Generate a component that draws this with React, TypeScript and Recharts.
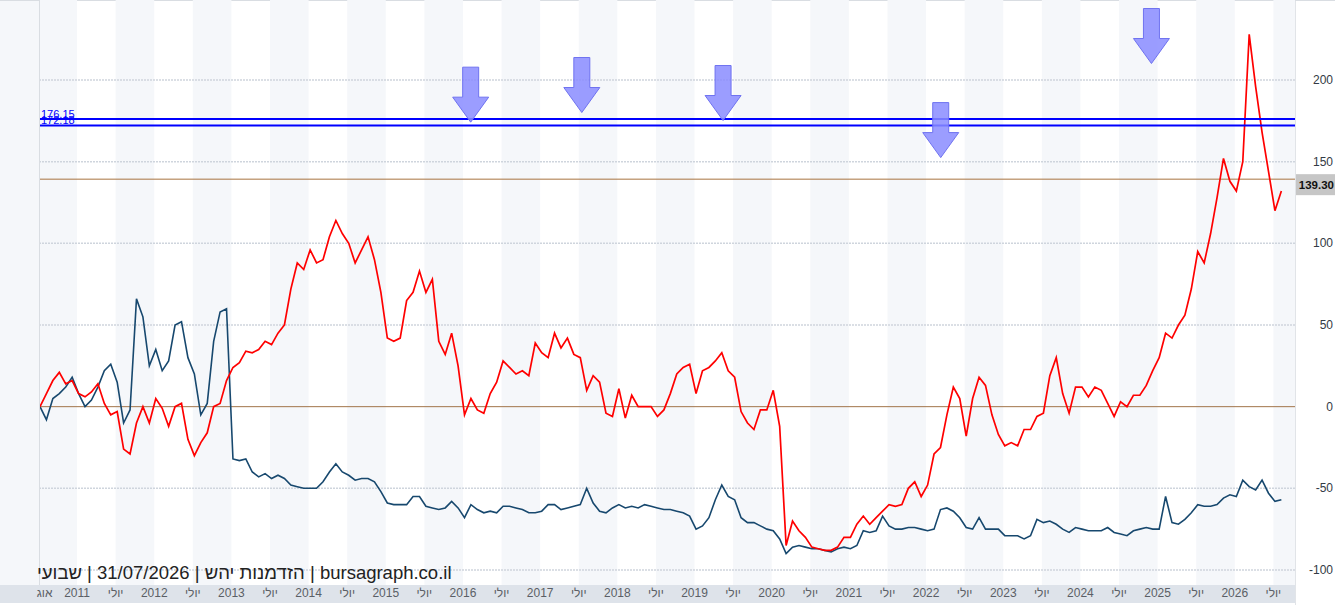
import React from "react";
import {
  LineChart,
  Line,
  XAxis,
  YAxis,
  ReferenceLine,
  ReferenceArea,
  ReferenceDot,
} from "recharts";

// weekly chart sampled monthly, starting mid-July 2010
const START = 2010.52;
const X_MIN = 2010.52;
const X_MAX = 2026.78;
const Y_MIN = -109.2;
const Y_MAX = 249;

const RED = [
  0, 8, 16, 21, 14, 16, 8, 6, 9, 14,
  2, -5, -3, -26, -29, -10, 0, -10, 5, -1,
  -12, 0, 2, -20, -30, -22, -16, 0, 2, 16,
  24, 27, 34, 33, 35, 40, 38, 45, 50, 72,
  88, 84, 96, 88, 90, 104, 114, 106, 100, 88,
  96, 104, 90, 70, 42, 40, 42, 65, 70, 83,
  70, 78, 40, 32, 45, 25, -5, 5, -2, -4,
  8, 15, 28, 24, 20, 22, 19, 39, 33, 30,
  45, 36, 42, 32, 30, 10, 19, 15, -4, -6,
  11, -7, 7, 0, 0, 0, -6, -2, 8, 20,
  24, 26, 8, 22, 24, 28, 33, 22, 18, -3,
  -10, -14, -2, -2, 10, -12, -85, -70, -76, -80,
  -86, -87, -88, -88, -86, -80, -80, -72, -67, -72,
  -68, -64, -60, -61, -60, -50, -46, -55, -48, -29,
  -25, -5, 12, 5, -18, 5, 18, 13, -5, -17,
  -24, -22, -24, -14, -14, -6, -4, 19, 30, 8,
  -4, 12, 12, 6, 12, 10, 2, -6, 3, 0,
  7, 7, 13, 22, 30, 45, 42, 50, 56, 72,
  95, 88, 106, 128, 152, 138, 132, 150, 228, 196,
  168, 144, 120, 132,
];

const BLUE = [
  0, -8, 5, 8, 12, 18, 8, 0, 4, 12,
  22, 26, 15, -10, -2, 66, 55, 25, 35, 22,
  28, 50, 52, 30, 20, -5, 2, 40, 58, 60,
  -32, -33, -32, -40, -43, -41, -44, -42, -44, -48,
  -49, -50, -50, -50, -46, -40, -35, -40, -42, -45,
  -44, -44, -46, -52, -59, -60, -60, -60, -55, -55,
  -61, -62, -63, -62, -58, -62, -68, -60, -63, -65,
  -64, -65, -61, -61, -62, -63, -65, -65, -64, -60,
  -60, -63, -62, -61, -60, -50, -59, -64, -65, -62,
  -60, -62, -61, -62, -60, -61, -62, -63, -63, -64,
  -65, -67, -75, -73, -68, -57, -48, -55, -57, -68,
  -71, -71, -73, -75, -76, -81, -90, -86, -85, -86,
  -87, -87, -88, -89, -87, -86, -87, -85, -76, -77,
  -76, -67, -73, -75, -75, -74, -74, -75, -76, -75,
  -63, -62, -64, -68, -74, -75, -68, -75, -75, -75,
  -79, -79, -79, -81, -79, -69, -71, -70, -72, -75,
  -77, -74, -75, -76, -76, -76, -74, -77, -78, -79,
  -76, -75, -74, -75, -75, -55, -71, -72, -69, -65,
  -60, -61, -61, -60, -56, -54, -55, -45, -49, -51,
  -45, -53, -58, -57,
];

const X_TICKS = [
  2010.58, 2011, 2011.5, 2012, 2012.5, 2013, 2013.5, 2014, 2014.5, 2015, 2015.5,
  2016, 2016.5, 2017, 2017.5, 2018, 2018.5, 2019, 2019.5, 2020, 2020.5,
  2021, 2021.5, 2022, 2022.5, 2023, 2023.5, 2024, 2024.5, 2025, 2025.5,
  2026, 2026.5,
];
const Y_TICKS = [-100, -50, 0, 50, 100, 150, 200];
const GRID_LEVELS = [-100, -50, 50, 100, 150, 200];
const STRIPE_YEARS = [
  2010, 2011, 2012, 2013, 2014, 2015, 2016, 2017, 2018, 2019, 2020, 2021,
  2022, 2023, 2024, 2025, 2026,
];

const RESIST_LEVELS = [176.15, 172.18];
const LAST_PRICE = 139.3;

const ARROW_DATES = [2016.1, 2017.54, 2019.37, 2022.19, 2024.92];
const ARROW_LEVELS = [174.2, 180.1, 175.2, 152.5, 210.1];

const data = RED.map((r, i) => ({ t: START + i / 12, red: r, blue: BLUE[i] }));

const FONT = "'Liberation Sans', Arial, sans-serif";

const tickLabel = (v: number) => {
  if (v === X_TICKS[0]) return "אוג";
  if (Math.abs(v - Math.round(v)) < 0.01) return String(Math.round(v));
  return "יולי";
};

const XTick = (props: any) => {
  const { x, y, payload } = props;
  return (
    <text x={x} y={y + 12} textAnchor="middle" fontSize={12} fill="#5b5f66" fontFamily={FONT}>
      {tickLabel(payload.value)}
    </text>
  );
};

const YTick = (props: any) => {
  const { x, y, payload } = props;
  return (
    <text x={x + 38} y={y + 4} textAnchor="end" fontSize={12} fill="#333a44" fontFamily={FONT}>
      {payload.value}
    </text>
  );
};

const Arrow = ({ cx, cy }: any) => (
  <polygon
    points={`${cx - 8},${cy - 55} ${cx + 8},${cy - 55} ${cx + 8},${cy - 25} ${cx + 18},${cy - 25} ${cx},${cy} ${cx - 18},${cy - 25} ${cx - 8},${cy - 25}`}
    fill="#8a8cff"
    fillOpacity={0.85}
    stroke="#6f72f0"
    strokeWidth={1}
  />
);

const levelLabel = (text: string) => (props: any) => {
  const vb = props.viewBox || {};
  return (
    <text x={vb.x + 1} y={vb.y - 1} fontSize={11} fill="#0000ff" fontFamily={FONT}>
      {text}
    </text>
  );
};

const lastLabel = (props: any) => {
  const vb = props.viewBox || {};
  const x = vb.x + vb.width + 1;
  return (
    <g>
      <rect x={x} y={vb.y - 5} width={40} height={21} fill="#c6c6c6" />
      <text x={x + 38} y={vb.y + 10} textAnchor="end" fontSize={11.5} fontWeight="bold" fill="#111" fontFamily={FONT}>
        {LAST_PRICE.toFixed(2)}
      </text>
    </g>
  );
};

export default function App() {
  return (
    <div style={{ position: "relative", width: 1335, height: 605, background: "#fff", overflow: "hidden" }}>
      <style>{`body{margin:0}`}</style>
      <div style={{ position: "absolute", left: 0, top: 0, width: 40, height: 585, background: "#f5f7fa" }} />
      <div style={{ position: "absolute", left: 0, top: 585, width: 1295, height: 18, background: "#dee3ea" }} />
      <div style={{ position: "absolute", left: 39, top: 0, width: 2, height: 585, background: "#d9dde2" }} />
      <div style={{ position: "absolute", left: 1295, top: 0, width: 1, height: 605, background: "#e1e4e8" }} />
      <div style={{ position: "absolute", left: 0, top: 0, width: 1335, height: 1, background: "#d9dde2" }} />
      <div style={{ position: "absolute", left: 0, top: 0 }}>
        <LineChart width={1335} height={605} data={data} margin={{ top: 0, right: 0, left: 40, bottom: 0 }}>
          <XAxis
            dataKey="t"
            type="number"
            domain={[X_MIN, X_MAX]}
            ticks={X_TICKS}
            interval={0}
            allowDataOverflow
            axisLine={false}
            tickLine={false}
            tickSize={0}
            tickMargin={0}
            height={20}
            tick={<XTick />}
          />
          <YAxis
            orientation="right"
            type="number"
            domain={[Y_MIN, Y_MAX]}
            ticks={Y_TICKS}
            interval={0}
            allowDataOverflow
            axisLine={false}
            tickLine={false}
            tickSize={0}
            tickMargin={0}
            width={40}
            tick={<YTick />}
          />
          {STRIPE_YEARS.map((yr) => (
            <ReferenceArea
              key={`s-${yr}`}
              x1={yr + 0.5}
              x2={yr + 1}
              ifOverflow="hidden"
              fill="#f5f7fa"
              fillOpacity={1}
              stroke="none"
            />
          ))}
          {GRID_LEVELS.map((v) => (
            <ReferenceLine key={`g-${v}`} y={v} stroke="#cfd5dd" strokeWidth={1.5} strokeDasharray="2 1" />
          ))}
          <ReferenceLine y={0} stroke="#a2754a" strokeWidth={1} />
          <ReferenceLine y={LAST_PRICE} stroke="#a8723f" strokeWidth={1} label={lastLabel} />
          <Line
            dataKey="blue"
            stroke="#17486e"
            strokeWidth={1.6}
            dot={false}
            isAnimationActive={false}
          />
          <Line
            dataKey="red"
            stroke="#ff0000"
            strokeWidth={1.7}
            dot={false}
            isAnimationActive={false}
          />
          {ARROW_DATES.map((d, i) => (
            <ReferenceDot
              key={`a-${i}`}
              x={d}
              y={ARROW_LEVELS[i]}
              r={0}
              ifOverflow="visible"
              shape={(p: any) => <Arrow cx={p.cx} cy={p.cy} />}
            />
          ))}
          {RESIST_LEVELS.map((v) => (
            <ReferenceLine
              key={`r-${v}`}
              y={v}
              stroke="#0000ff"
              strokeWidth={2}
              label={levelLabel(v.toFixed(2))}
            />
          ))}
        </LineChart>
      </div>
      <div
        dir="rtl"
        style={{
          position: "absolute",
          left: 37,
          top: 562,
          fontSize: 18.5,
          fontFamily: FONT,
          color: "#222",
          whiteSpace: "nowrap",
          lineHeight: "21px",
        }}
      >
        bursagraph.co.il | הזדמנות יהש | 31/07/2026 | שבועי
      </div>
    </div>
  );
}
